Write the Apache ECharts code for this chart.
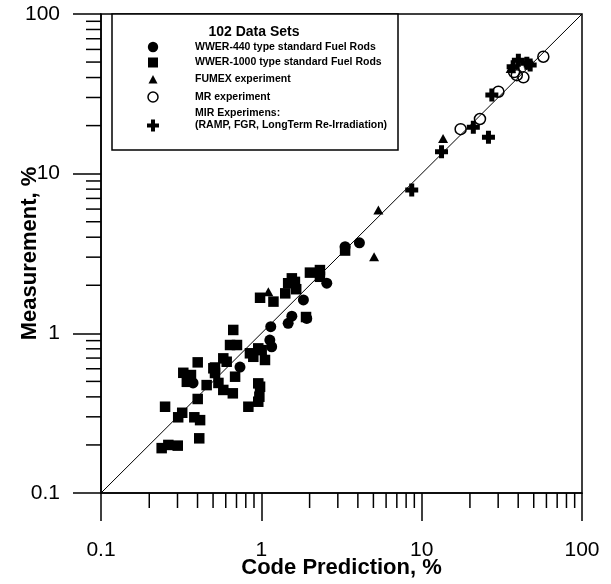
<!DOCTYPE html>
<html>
<head>
<meta charset="utf-8">
<script src="https://cdn.jsdelivr.net/npm/echarts@6/dist/echarts.min.js"></script>
<style>
html,body{margin:0;padding:0;background:#fff;}
#chart{width:611px;height:584px;}
</style>
</head>
<body>
<div id="chart"></div>
<script>
// ---- data (x = code prediction %, y = measurement %) ----
const wwer440 = [
  [4.09,3.69],[3.33,3.49],[2.56,2.06],[1.83,1.62],[1.55,1.28],[1.47,1.155],
  [1.92,1.24],[1.145,1.10],[1.13,0.907],[1.16,0.824],[0.736,0.615],[0.375,0.489]
];
const wwer1000 = [
  [2.01,2.40],[2.32,2.49],[2.32,2.26],[1.55,2.21],[1.62,2.10],[1.47,2.06],
  [1.65,1.89],[1.41,1.78],[0.982,1.67],[1.19,1.58],[0.668,1.05],[0.638,0.845],
  [0.705,0.845],[0.957,0.805],[1.005,0.785],[0.849,0.750],[0.891,0.713],[1.054,0.681],
  [0.579,0.697],[0.608,0.664],[0.502,0.604],[0.686,0.535],[0.957,0.486],[0.982,0.463],
  [0.972,0.401],[0.957,0.373],[0.830,0.347],[0.664,0.421],[0.579,0.442],[0.540,0.489],
  [0.514,0.564],[0.456,0.474],[0.401,0.658],[0.326,0.566],[0.364,0.548],[0.343,0.497],
  [0.401,0.388],[0.251,0.347],[0.303,0.298],[0.321,0.318],[0.382,0.298],[0.415,0.286],
  [0.410,0.220],[0.239,0.191],[0.263,0.200],[0.301,0.198],[0.514,0.611],[3.33,3.30],
  [1.90,1.265]
];
const fumex = [[35.9,45.6],[13.6,16.6],[5.37,5.92],[5.05,3.02],[1.106,1.82]];
const mr = [[57.4,54.0],[39.2,41.4],[43.1,40.1],[37.7,43.3],[30.1,32.6],[23.1,22.0],[17.5,19.0]];
const mir = [[40.1,51.4],[45.3,49.1],[47.5,47.9],[37.2,46.7],[27.4,31.1],[21.0,19.5],[26.1,16.9],[13.3,13.7],[8.67,7.89]];
const diagonal = [[0.1,0.1],[100,100]];

const seriesNames = [
  'WWER-440 type standard Fuel Rods',
  'WWER-1000 type standard Fuel Rods',
  'FUMEX experiment',
  'MR experiment',
  'MIR Experimens:',
  '(RAMP, FGR, LongTerm Re-Irradiation)'
];
const legendTitle = '102 Data Sets';
const xTitle = 'Code Prediction, %';
const yTitle = 'Measurement, %';
const axisMin = 0.1, axisMax = 100;
const minorTickValues = [0.2,0.3,0.4,0.5,0.6,0.7,0.8,0.9,2,3,4,5,6,7,8,9,20,30,40,50,60,70,80,90];

const FONT = '"Liberation Sans", Arial, sans-serif';
const crossPath = 'path://M4,0H9V4H13V9H9V13H4V9H0V4H4Z';

const chart = echarts.init(document.getElementById('chart'), null, {renderer:'canvas'});

function fmt(v){ return String(Number(v.toPrecision(3))); }

const axisCommon = {
  type: 'log', logBase: 10, min: axisMin, max: axisMax,
  axisLine: {show: true, lineStyle: {color: '#000', width: 1.5}},
  axisTick: {show: true, inside: false, length: 28, lineStyle: {color: '#000', width: 1.5}},
  splitLine: {show: false},
  minorTick: {show: false},
  nameLocation: 'middle',
  nameMoveOverlap: false,
  nameTextStyle: {fontFamily: FONT, fontWeight: 'bold', fontSize: 22, color: '#000'}
};

const legendX = 153;
const textX = 195;
const legendGraphics = [
  {type:'rect', shape:{x:112, y:14, width:286, height:136}, style:{fill:'#fff', stroke:'#000', lineWidth:1.5}, z: 10},
  {type:'text', style:{x:254, y:32, text:legendTitle, font:'bold 14px '+FONT, fill:'#000', align:'center', verticalAlign:'middle'}, z: 11},
  {type:'circle', shape:{cx:legendX, cy:47, r:5.2}, style:{fill:'#000'}, z: 11},
  {type:'rect', shape:{x:legendX-5, y:57.5, width:10, height:10}, style:{fill:'#000'}, z: 11},
  {type:'polygon', shape:{points:[[legendX,75],[legendX+4.5,83.5],[legendX-4.5,83.5]]}, style:{fill:'#000'}, z: 11},
  {type:'circle', shape:{cx:legendX, cy:97, r:5}, style:{fill:'none', stroke:'#000', lineWidth:1.5}, z: 11},
  {type:'polygon', shape:{points:[[legendX-2,119.5],[legendX+2,119.5],[legendX+2,123.5],[legendX+6,123.5],[legendX+6,127.5],[legendX+2,127.5],[legendX+2,131.5],[legendX-2,131.5],[legendX-2,127.5],[legendX-6,127.5],[legendX-6,123.5],[legendX-2,123.5]]}, style:{fill:'#000'}, z: 11},
  {type:'text', style:{x:textX, y:47, text:seriesNames[0], font:'bold 10.5px '+FONT, fill:'#000', verticalAlign:'middle'}, z: 11},
  {type:'text', style:{x:textX, y:62.5, text:seriesNames[1], font:'bold 10.5px '+FONT, fill:'#000', verticalAlign:'middle'}, z: 11},
  {type:'text', style:{x:textX, y:79.5, text:seriesNames[2], font:'bold 10.5px '+FONT, fill:'#000', verticalAlign:'middle'}, z: 11},
  {type:'text', style:{x:textX, y:97, text:seriesNames[3], font:'bold 10.5px '+FONT, fill:'#000', verticalAlign:'middle'}, z: 11},
  {type:'text', style:{x:textX, y:113.5, text:seriesNames[4], font:'bold 10.5px '+FONT, fill:'#000', verticalAlign:'middle'}, z: 11},
  {type:'text', style:{x:textX, y:125.5, text:seriesNames[5], font:'bold 10.5px '+FONT, fill:'#000', verticalAlign:'middle'}, z: 11}
];

const option = {
  animation: false,
  backgroundColor: '#fff',
  grid: {left: 101, right: 29, top: 14, bottom: 91, containLabel: false, outerBoundsMode: 'none',
         show: true, borderColor: '#000', borderWidth: 1.5, backgroundColor: 'transparent'},
  xAxis: Object.assign({}, axisCommon, {
    name: xTitle, nameGap: 64,
    axisLabel: {margin: 47, fontFamily: FONT, fontSize: 21, color: '#000', formatter: fmt}
  }),
  yAxis: Object.assign({}, axisCommon, {
    name: yTitle, nameGap: 60, nameRotate: 90,
    axisLabel: {margin: 41, fontFamily: FONT, fontSize: 21, color: '#000', formatter: fmt}
  }),
  graphic: legendGraphics,
  series: [
    {type:'line', data: diagonal, symbol:'none', lineStyle:{color:'#000', width:1}, z: 1, silent: true},
    {type:'custom', clip: false, silent: true, z: 3, data: minorTickValues.map(v => [v, axisMin]),
      renderItem: (params, api) => {
        const p = api.coord([api.value(0), api.value(1)]);
        return {type:'line', shape:{x1:p[0], y1:p[1], x2:p[0], y2:p[1]+15}, style:{stroke:'#000', lineWidth:1.5}};
      }},
    {type:'custom', clip: false, silent: true, z: 3, data: minorTickValues.map(v => [axisMin, v]),
      renderItem: (params, api) => {
        const p = api.coord([api.value(0), api.value(1)]);
        return {type:'line', shape:{x1:p[0]-15, y1:p[1], x2:p[0], y2:p[1]}, style:{stroke:'#000', lineWidth:1.5}};
      }},
    {name: seriesNames[0], type:'scatter', data: wwer440, symbol:'circle', symbolSize: 11, itemStyle:{color:'#000', opacity:1}, z: 5},
    {name: seriesNames[1], type:'scatter', data: wwer1000, symbol:'rect', symbolSize: 10.5, itemStyle:{color:'#000', opacity:1}, z: 5},
    {name: seriesNames[2], type:'scatter', data: fumex, symbol:'triangle', symbolSize: [10, 9], itemStyle:{color:'#000', opacity:1}, z: 5},
    {name: seriesNames[3], type:'scatter', data: mr, symbol:'circle', symbolSize: 11, itemStyle:{color:'rgba(0,0,0,0)', borderColor:'#000', borderWidth:1.5, opacity:1}, z: 6},
    {name: seriesNames[4] + ' ' + seriesNames[5], type:'scatter', data: mir, symbol: crossPath, symbolSize: 13, itemStyle:{color:'#000', opacity:1}, z: 5}
  ]
};
chart.setOption(option);
</script>
</body>
</html>
